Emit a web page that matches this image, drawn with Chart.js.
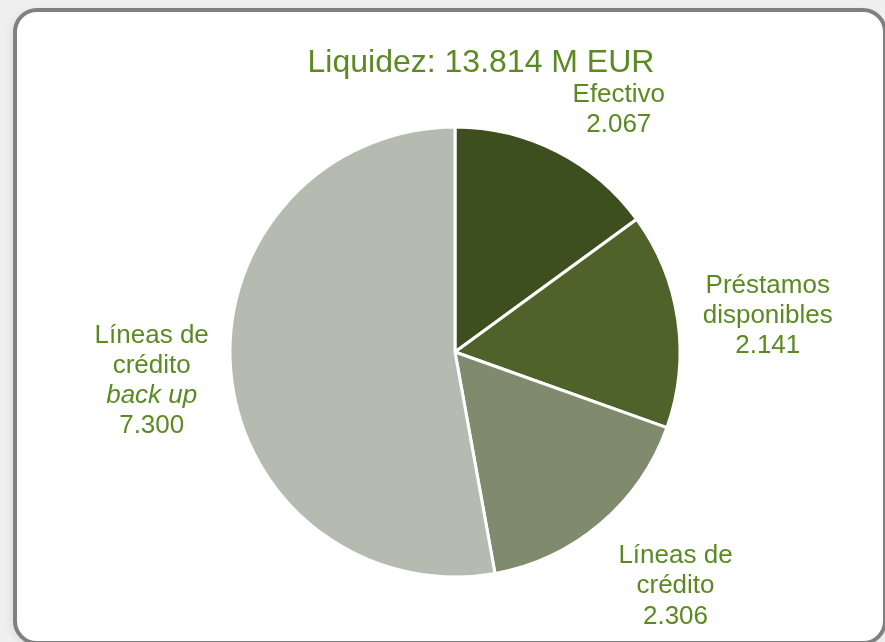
<!DOCTYPE html>
<html>
<head>
<meta charset="utf-8">
<script src="https://cdn.jsdelivr.net/npm/chart.js@4/dist/chart.umd.min.js"></script>
<style>
  html, body { margin: 0; padding: 0; width: 885px; height: 642px; overflow: hidden; background: #efefef; }
  #frame { position: absolute; left: 13px; top: 8px; width: 866px; height: 629px; border: 4px solid #808080; border-radius: 24px; background: #ffffff; box-shadow: -3px 2px 6px rgba(0,0,0,0.06); }
  #wrap { position: absolute; left: 0; top: 0; width: 885px; height: 642px; }
</style>
</head>
<body>
<div id="frame"></div>
<div id="wrap"><canvas id="c" width="885" height="642"></canvas></div>
<script>
// ---- data ----
const titlePrefix = 'Liquidez: ';
const titleUnit = ' M EUR';
const categories = ['Efectivo', 'Préstamos disponibles', 'Líneas de crédito', 'Líneas de crédito back up'];
const categoryLines = [
  ['Efectivo'],
  ['Préstamos', 'disponibles'],
  ['Líneas de', 'crédito'],
  ['Líneas de', 'crédito', 'back up']
];
const italicLines = ['back up'];
const values = [2067, 2141, 2306, 7300];
const colors = ['#3e4f1f', '#4e6229', '#808b6e', '#b6bbb1'];

// ---- label placement (relative to pie centre, in radius units) ----
const labelOffsets = [
  [0.728, -1.085],
  [1.39, -0.17],
  [0.98, 1.031],
  [-1.348, 0.118]
];

function fmt(n) {
  return String(n).replace(/\B(?=(\d{3})+(?!\d))/g, '.');
}

const textColor = '#5b8a21';
const fontFamily = '"Liberation Sans", Arial, sans-serif';

const labelPlugin = {
  id: 'pieLabels',
  afterDatasetsDraw(chart) {
    const ctx = chart.ctx;
    const meta = chart.getDatasetMeta(0);
    ctx.save();
    ctx.fillStyle = textColor;
    ctx.textAlign = 'center';
    ctx.textBaseline = 'alphabetic';
    // title
    const total = values.reduce((a, b) => a + b, 0);
    ctx.font = '32px ' + fontFamily;
    const first = meta.data[0];
    const cx = first.x, cy = first.y, r = first.outerRadius;
    ctx.fillText(titlePrefix + fmt(total) + titleUnit, 481, 72);
    // slice labels
    const lh = 30.2;
    meta.data.forEach((arc, i) => {
      const lines = categoryLines[i].concat([fmt(values[i])]);
      const ax = cx + labelOffsets[i][0] * r;
      const ay = cy + labelOffsets[i][1] * r;
      const n = lines.length;
      lines.forEach((ln, k) => {
        const italic = italicLines.includes(ln);
        ctx.font = (italic ? 'italic ' : '') + '26px ' + fontFamily;
        const midY = ay + (k - (n - 1) / 2) * lh;
        ctx.fillText(ln, ax, midY + 9.5);
      });
    });
    ctx.restore();
  }
};

new Chart(document.getElementById('c'), {
  type: 'pie',
  data: {
    labels: categories,
    datasets: [{
      data: values,
      backgroundColor: colors,
      borderColor: '#ffffff',
      borderWidth: 3
    }]
  },
  options: {
    responsive: false,
    animation: false,
    radius: 225,
    layout: { padding: { left: 30, right: 5, top: 100, bottom: 38 } },
    plugins: {
      legend: { display: false },
      tooltip: { enabled: false },
      title: { display: false }
    }
  },
  plugins: [labelPlugin]
});
</script>
</body>
</html>
